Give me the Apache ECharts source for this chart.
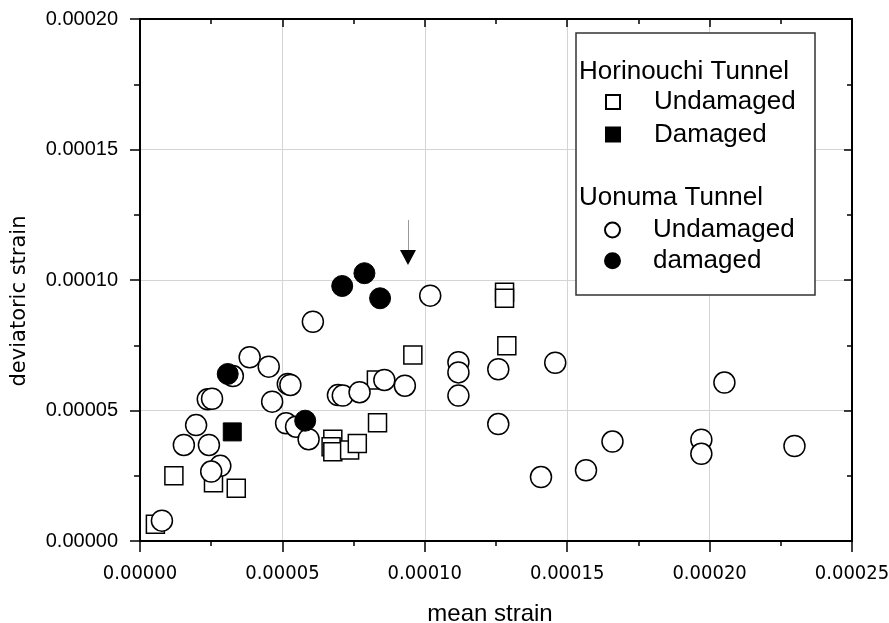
<!DOCTYPE html>
<html>
<head>
<meta charset="UTF-8">
<title>deviatoric strain vs mean strain</title>
<script src="https://cdn.jsdelivr.net/npm/echarts@6/dist/echarts.min.js"></script>
<style>
  html, body { margin: 0; padding: 0; background: #fff; }
</style>
</head>
<body>
<div id="main" style="width: 889px;height:623px;"></div>
<script type="text/javascript">
// [mean strain, deviatoric strain]
var horiUndamaged = [
    [0.54e-5, 0.64e-5], [1.19e-5, 2.50e-5], [2.58e-5, 2.23e-5], [3.38e-5, 2.02e-5],
    [6.77e-5, 3.90e-5], [6.71e-5, 3.61e-5], [6.77e-5, 3.42e-5], [7.36e-5, 3.49e-5],
    [7.63e-5, 3.74e-5], [8.34e-5, 4.53e-5], [8.30e-5, 6.17e-5], [9.58e-5, 7.13e-5],
    [12.80e-5, 9.53e-5], [12.80e-5, 9.30e-5], [12.88e-5, 7.48e-5]
];
var horiDamaged = [
    [3.24e-5, 4.18e-5]
];
var uonumaUndamaged = [
    [0.77e-5, 0.78e-5], [1.54e-5, 3.68e-5], [1.97e-5, 4.44e-5], [2.42e-5, 3.68e-5],
    [2.38e-5, 5.43e-5], [2.53e-5, 5.45e-5], [2.82e-5, 2.88e-5], [2.50e-5, 2.66e-5],
    [3.26e-5, 6.32e-5], [3.85e-5, 7.04e-5], [4.52e-5, 6.68e-5], [5.19e-5, 6.02e-5],
    [5.28e-5, 5.98e-5], [4.64e-5, 5.34e-5], [5.13e-5, 4.51e-5], [5.48e-5, 4.38e-5],
    [5.92e-5, 3.90e-5], [6.07e-5, 8.40e-5], [6.95e-5, 5.59e-5], [7.12e-5, 5.57e-5],
    [7.71e-5, 5.70e-5], [8.58e-5, 6.17e-5], [9.30e-5, 5.95e-5], [10.19e-5, 9.40e-5],
    [11.18e-5, 6.85e-5], [11.18e-5, 6.46e-5], [11.18e-5, 5.57e-5], [12.58e-5, 6.58e-5],
    [12.58e-5, 4.48e-5], [14.58e-5, 6.83e-5], [14.08e-5, 2.45e-5], [15.66e-5, 2.71e-5],
    [16.59e-5, 3.81e-5], [19.71e-5, 3.88e-5], [19.71e-5, 3.34e-5], [20.52e-5, 6.07e-5],
    [22.98e-5, 3.64e-5]
];
var uonumaDamaged = [
    [3.08e-5, 6.40e-5], [5.80e-5, 4.61e-5], [7.10e-5, 9.77e-5], [7.88e-5, 10.26e-5],
    [8.43e-5, 9.30e-5]
];
// arrow annotation: stem start / end and triangle head
var arrowStem = [[9.41e-5, 12.30e-5], [9.41e-5, 11.15e-5]];
var arrowHead = [[9.41e-5, 10.86e-5]];

var xTicks = { min: 0, max: 0.00025, interval: 0.00005 };
var yTicks = { min: 0, max: 0.00020, interval: 0.00005 };

var myChart = echarts.init(document.getElementById('main'));

function fmt(v) { return v.toFixed(5); }

var openStyle = { color: '#ffffff', borderColor: '#000', borderWidth: 1.5, opacity: 1 };
var solidStyle = { color: '#000', borderColor: '#000', borderWidth: 1, opacity: 1 };

var option = {
    animation: false,
    backgroundColor: '#fff',
    grid: { left: 140, right: 37, top: 19, bottom: 82, containLabel: false, outerBoundsMode: 'none' },
    xAxis: [
        {
            type: 'value', position: 'bottom',
            min: xTicks.min, max: xTicks.max, interval: xTicks.interval,
            name: 'mean strain', nameLocation: 'middle', nameGap: 61,
            nameTextStyle: { fontFamily: 'Liberation Sans', fontSize: 24, color: '#000', padding: [0, 12, 0, 0] },
            axisLine: { show: true, onZero: false, lineStyle: { color: '#000', width: 2 } },
            axisTick: { show: true, inside: false, length: 11, lineStyle: { color: '#000', width: 1.5 } },
            minorTick: { show: true, splitNumber: 2, length: 5, lineStyle: { color: '#000', width: 1.5 } },
            splitLine: { show: true, lineStyle: { color: '#d4d4d4', width: 1 } },
            axisLabel: { formatter: fmt, margin: 23, color: '#000', fontFamily: 'DejaVu Sans Condensed', fontSize: 20 }
        },
        {
            type: 'value', position: 'top',
            min: xTicks.min, max: xTicks.max, interval: xTicks.interval,
            axisLine: { show: true, onZero: false, lineStyle: { color: '#000', width: 2 } },
            axisTick: { show: true, inside: true, length: 8, lineStyle: { color: '#000', width: 1.5 } },
            minorTick: { show: true, splitNumber: 2, length: 5, lineStyle: { color: '#000', width: 1.5 } },
            splitLine: { show: false },
            axisLabel: { show: false }
        }
    ],
    yAxis: [
        {
            type: 'value', position: 'left',
            min: yTicks.min, max: yTicks.max, interval: yTicks.interval,
            name: 'deviatoric strain', nameLocation: 'middle', nameGap: 110,
            nameTextStyle: { fontFamily: 'DejaVu Sans', fontSize: 21, color: '#000', padding: [0, 42, 0, 0] },
            axisLine: { show: true, onZero: false, lineStyle: { color: '#000', width: 2 } },
            axisTick: { show: true, inside: false, length: 10, lineStyle: { color: '#000', width: 1.5 } },
            minorTick: { show: true, splitNumber: 2, length: 6, lineStyle: { color: '#000', width: 1.5 } },
            splitLine: { show: true, lineStyle: { color: '#d4d4d4', width: 1 } },
            axisLabel: { formatter: fmt, margin: 22, color: '#000', fontFamily: 'Liberation Sans', fontSize: 20 }
        },
        {
            type: 'value', position: 'right',
            min: yTicks.min, max: yTicks.max, interval: yTicks.interval,
            axisLine: { show: true, onZero: false, lineStyle: { color: '#000', width: 2 } },
            axisTick: { show: true, inside: true, length: 8, lineStyle: { color: '#000', width: 1.5 } },
            minorTick: { show: true, splitNumber: 2, length: 5, lineStyle: { color: '#000', width: 1.5 } },
            splitLine: { show: false },
            axisLabel: { show: false }
        }
    ],
    legend: [
        {
            data: ['Horinouchi Undamaged', 'Horinouchi Damaged'],
            orient: 'vertical', left: 605, top: 89, padding: 0, itemGap: 6.6,
            itemWidth: 14, itemHeight: 14, z: 10, selectedMode: false,
            formatter: function (n) { return n.split(' ')[1]; },
            textStyle: { fontFamily: 'Liberation Sans', fontSize: 26, color: '#000', padding: [0, 0, 0, 29] }
        },
        {
            data: ['Uonuma Undamaged', 'Uonuma damaged'],
            orient: 'vertical', left: 604, top: 217, padding: 0, itemGap: 4.7,
            itemWidth: 15, itemHeight: 15, z: 10, selectedMode: false,
            formatter: function (n) { return n.split(' ')[1]; },
            textStyle: { fontFamily: 'Liberation Sans', fontSize: 26, color: '#000', padding: [0, 0, 0, 28] }
        }
    ],
    graphic: [
        {
            type: 'rect', z: 5,
            shape: { x: 576, y: 33, width: 239, height: 262 },
            style: { fill: '#fff', stroke: '#333', lineWidth: 1.5 }
        },
        {
            type: 'text', z: 6, left: 579, top: 59,
            style: { text: 'Horinouchi Tunnel', font: '26px "Liberation Sans"', fill: '#000' }
        },
        {
            type: 'text', z: 6, left: 579, top: 185,
            style: { text: 'Uonuma Tunnel', font: '26px "Liberation Sans"', fill: '#000' }
        }
    ],
    series: [
        {
            name: 'Horinouchi Undamaged', type: 'scatter', symbol: 'rect', symbolSize: 18,
            itemStyle: openStyle, data: horiUndamaged, z: 2
        },
        {
            name: 'Horinouchi Damaged', type: 'scatter', symbol: 'rect', symbolSize: 18,
            itemStyle: solidStyle, data: horiDamaged, z: 3
        },
        {
            name: 'Uonuma Undamaged', type: 'scatter', symbol: 'circle', symbolSize: 21,
            itemStyle: openStyle, data: uonumaUndamaged, z: 4
        },
        {
            name: 'Uonuma damaged', type: 'scatter', symbol: 'circle', symbolSize: 21,
            itemStyle: solidStyle, data: uonumaDamaged, z: 5
        },
        {
            name: 'arrow', type: 'scatter', symbol: 'triangle', symbolRotate: 180,
            symbolSize: [16, 15], itemStyle: { color: '#000', opacity: 1 },
            data: arrowHead, z: 5, silent: true,
            markLine: {
                silent: true, symbol: ['none', 'none'], label: { show: false },
                lineStyle: { color: '#999', width: 1, type: 'solid' },
                data: [[{ coord: arrowStem[0] }, { coord: arrowStem[1] }]]
            }
        }
    ]
};

myChart.setOption(option);
</script>
</body>
</html>
